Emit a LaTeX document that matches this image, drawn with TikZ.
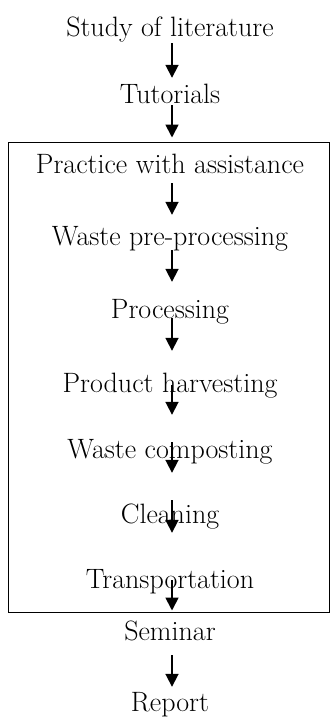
\documentclass[tikz,border=0pt]{standalone}
\usepackage{tikz}
\usetikzlibrary{arrows.meta,calc}
\tikzset{
  stagetext/.style={inner sep=0pt,anchor=base,text height=18pt,text depth=0pt,font=\fontsize{28}{32}\selectfont},
  frame/.style={draw,line width=1pt,minimum width=321pt,minimum height=470pt,inner sep=0pt},
  arr/.style={-{Triangle[length=13pt,width=13pt]},line width=1.8pt}
}

\begin{document}
\begin{tikzpicture}[x=1pt,y=1pt]
\useasboundingbox (0,0) rectangle (331,-717);
\node[stagetext] (lit) at (170,-37) {Study of literature};
\node[stagetext] (tut) at (170,-103) {Tutorials};
\node[frame] (stage) at (168.5,-377) {};
\node[stagetext] (prac) at (170,-173) {Practice with assistance};
\node[stagetext] (pre) at (170,-245) {Waste pre-processing};
\node[stagetext] (proc) at (170,-318) {Processing};
\node[stagetext] (harv) at (170,-392) {Product harvesting};
\node[stagetext] (comp) at (170,-458) {Waste composting};
\node[stagetext] (clean) at (170,-523) {Cleaning};
\node[stagetext] (trans) at (170,-588) {Transportation};
\node[stagetext] (sem) at (170,-640) {Seminar};
\node[stagetext] (rep) at (170,-711) {Report};
% arrows overlap the labels as in the original sheet
\draw[arr] ($(lit.south)+(2,-6)$) -- ($(tut.north)+(2,7)$);
\draw[arr] ($(tut.south)+(2,-2)$) -- ($(tut.south |- stage.north)+(2,4)$);
\draw[arr] ($(prac.south)+(2,-10)$) -- ($(pre.north)+(2,12)$);
\draw[arr] ($(pre.south)+(2,-5)$) -- ($(proc.north)+(2,18)$);
\draw[arr] ($(proc.south)+(2,0)$) -- ($(harv.north)+(2,23)$);
\draw[arr] ($(harv.south)+(2,7)$) -- ($(comp.north)+(2,25)$);
\draw[arr] ($(comp.south)+(2,16)$) -- ($(clean.north)+(2,32)$);
\draw[arr] ($(clean.south)+(2,23)$) -- ($(trans.north)+(2,37)$);
\draw[arr] ($(trans.south)+(2,8)$) -- ($(trans.south |- stage.south)+(2,2)$);
\draw[arr] ($(sem.south)+(2,-15)$) -- ($(rep.north)+(2,6)$);
\end{tikzpicture}
\end{document}
